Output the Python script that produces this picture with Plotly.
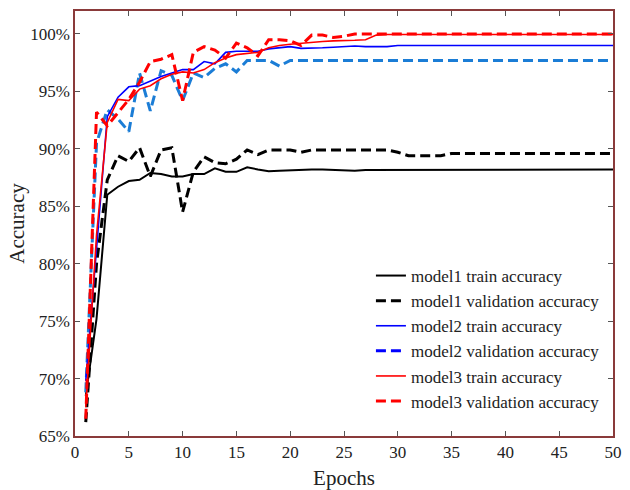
import plotly.graph_objects as go

epochs = list(range(1, 51))

m1_train = [68.5, 75.2, 86.0, 86.7, 87.2, 87.3, 87.9, 87.8, 87.6, 87.6,
            87.8, 87.8, 88.3, 88.0, 88.0, 88.4, 88.2, 88.05, 88.1, 88.15,
            88.2, 88.2, 88.2, 88.15, 88.1, 88.1, 88.15, 88.15, 88.2, 88.2,
            88.2, 88.2, 88.2, 88.2, 88.2, 88.2, 88.2, 88.2, 88.2, 88.2,
            88.2, 88.2, 88.2, 88.2, 88.2, 88.2, 88.2, 88.2, 88.2, 88.2]
m1_val = [66.2, 80.0, 87.3, 89.4, 88.9, 90.1, 87.6, 89.9, 90.1, 84.5,
          88.0, 89.3, 88.8, 88.7, 89.1, 89.9, 89.5, 89.9, 89.9, 89.9,
          89.7, 89.9, 89.9, 89.9, 89.9, 89.9, 89.9, 89.9, 89.9, 89.7,
          89.4, 89.4, 89.4, 89.4, 89.6, 89.6, 89.6, 89.6, 89.6, 89.6,
          89.6, 89.6, 89.6, 89.6, 89.6, 89.6, 89.6, 89.6, 89.6, 89.6]
m2_train = [69.8, 81.5, 92.8, 94.5, 95.4, 95.5, 95.9, 96.3, 96.6, 96.9,
            96.9, 97.6, 97.4, 98.4, 98.5, 98.5, 98.5, 98.7, 98.8, 98.9,
            98.75, 98.75, 98.8, 98.85, 98.9, 98.95, 98.9, 98.9, 98.9, 99.0,
            99.0, 99.0, 99.0, 99.0, 99.0, 99.0, 99.0, 99.0, 99.0, 99.0,
            99.0, 99.0, 99.0, 99.0, 99.0, 99.0, 99.0, 99.0, 99.0, 99.0]
m2_val = [68.8, 90.5, 93.4, 92.6, 91.5, 96.6, 93.3, 96.8, 96.4, 94.2,
          96.6, 96.2, 97.0, 97.4, 96.7, 97.7, 97.7, 97.7, 97.2, 97.7,
          97.7, 97.7, 97.7, 97.7, 97.7, 97.7, 97.7, 97.7, 97.7, 97.7,
          97.7, 97.7, 97.7, 97.7, 97.7, 97.7, 97.7, 97.7, 97.7, 97.7,
          97.7, 97.7, 97.7, 97.7, 97.7, 97.7, 97.7, 97.7, 97.7, 97.7]
m3_train = [67.5, 82.5, 92.3, 94.3, 94.2, 95.2, 95.5, 96.1, 96.5, 96.7,
            96.6, 96.9, 97.5, 97.9, 98.2, 98.3, 98.4, 98.8, 99.0, 99.1,
            99.2, 99.3, 99.35, 99.4, 99.4, 99.45, 99.5, 99.9, 99.95, 99.95,
            99.95, 99.95, 99.95, 99.95, 99.95, 99.95, 99.95, 99.95, 99.95, 99.95,
            99.95, 99.95, 99.95, 99.95, 99.95, 99.95, 99.95, 99.95, 99.95, 99.95]
m3_val = [66.5, 93.2, 92.0, 93.1, 94.3, 95.8, 97.6, 97.8, 98.2, 94.2,
          98.4, 98.9, 98.6, 97.9, 99.2, 98.8, 98.1, 99.5, 99.5, 99.4,
          99.0, 99.9, 99.9, 99.7, 99.8, 100.0, 100.0, 100.0, 100.0, 100.0,
          100.0, 100.0, 100.0, 100.0, 100.0, 100.0, 100.0, 100.0, 100.0, 100.0,
          100.0, 100.0, 100.0, 100.0, 100.0, 100.0, 100.0, 100.0, 100.0, 100.0]

series_names = ["model1 train accuracy", "model1 validation accuracy",
                "model2 train accuracy", "model2 validation accuracy",
                "model3 train accuracy", "model3 validation accuracy"]

x_ticks = list(range(0, 51, 5))
y_ticks = list(range(65, 101, 5))
y_tick_text = [f"{v}%" for v in y_ticks]

FONT = "Liberation Serif"
DASH = "10px,5px"

fig = go.Figure()

# (data, line color, legend color, width, dash)
specs = [
    (m1_train, "#000000", "#000000", 2.0, "solid"),
    (m1_val, "#000000", "#000000", 3.0, DASH),
    (m2_train, "#0000ff", "#0000ff", 1.6, "solid"),
    (m2_val, "#1b7dd6", "#0000ff", 3.0, DASH),
    (m3_train, "#ff0000", "#ff0000", 1.6, "solid"),
    (m3_val, "#ff0000", "#ff0000", 3.0, DASH),
]

draw_order = [0, 1, 3, 2, 4, 5]
for i in draw_order:
    data, col, _, w, d = specs[i]
    fig.add_trace(go.Scatter(x=epochs, y=data, mode="lines", showlegend=False,
                             line=dict(color=col, width=w, dash=d),
                             hoverinfo="skip"))

for i, name in enumerate(series_names):
    _, _, lcol, w, d = specs[i]
    fig.add_trace(go.Scatter(x=[None], y=[None], mode="lines", name=name,
                             line=dict(color=lcol, width=w, dash=d)))

border = "#8a3a3a"
fig.update_layout(
    width=630, height=490,
    margin=dict(l=75, r=17, t=11, b=54),
    paper_bgcolor="white", plot_bgcolor="white",
    font=dict(family=FONT, size=17, color="#222222"),
    legend=dict(x=0.985, xanchor="right", y=0.04, yanchor="bottom",
                bgcolor="rgba(255,255,255,0)", borderwidth=0,
                font=dict(family=FONT, size=17, color="#222222"),
                tracegroupgap=0),
    xaxis=dict(range=[0, 50], tickvals=x_ticks, ticks="inside", ticklen=5,
               tickcolor="#555555", showline=True, linecolor=border, linewidth=1.5,
               mirror="ticks", showgrid=False, zeroline=False, automargin=False,
               title=dict(text="Epochs", font=dict(size=21, family=FONT), standoff=10),
               tickfont=dict(size=17, family=FONT)),
    yaxis=dict(range=[65, 102], tickvals=y_ticks, ticktext=y_tick_text, ticks="inside",
               ticklen=5, tickcolor="#555555", showline=True, linecolor=border,
               linewidth=1.5, mirror="ticks", showgrid=False, zeroline=False,
               automargin=False,
               title=dict(text="Accuracy", font=dict(size=21, family=FONT), standoff=0),
               tickfont=dict(size=17, family=FONT)),
)

fig.write_html("out.html")
